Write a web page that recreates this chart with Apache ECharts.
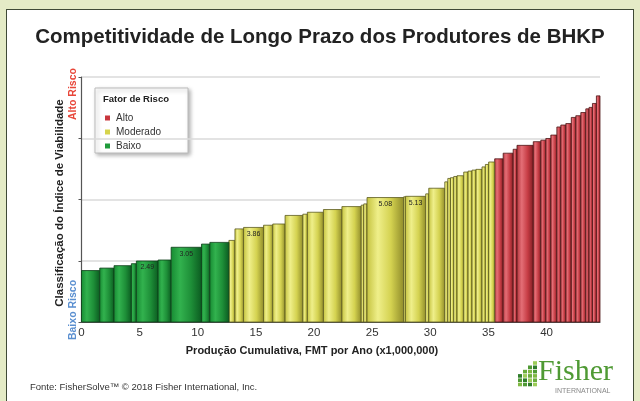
<!DOCTYPE html>
<html><head><meta charset="utf-8">
<script src="https://cdn.jsdelivr.net/npm/echarts@6/dist/echarts.min.js"></script>
<style>
html,body{margin:0;padding:0;background:#e4ebc6;width:640px;height:401px;overflow:hidden}
#frame{position:absolute;left:6px;top:9px;width:626px;height:400px;background:#fff;border:1.5px solid #3f4a36}
#c{position:absolute;left:0;top:0;width:640px;height:401px}
</style>
</head><body><div id="frame"></div><div id="c"></div><script>
// Capacity (width) of each producer group, FMT x1,000,000
const widths = [1.57,1.23,1.49,0.43,1.87,1.12,2.61,0.72,1.64,
  0.52,0.74,1.72,0.79,1.06,1.53,0.39,1.38,1.59,1.66,0.22,0.28,3.15,0.15,1.75,0.26,1.38,
  0.26,0.23,0.28,0.28,0.58,0.37,0.34,0.34,0.52,0.29,0.28,0.52,
  0.73,0.86,0.33,1.40,0.65,0.43,0.43,0.52,0.34,0.43,0.47,0.39,0.43,0.43,0.28,0.29,0.34,0.31];
// Viability index score of each group
const values = [2.10,2.20,2.30,2.38,2.49,2.53,3.05,3.18,3.25,
  3.33,3.80,3.86,3.95,4.00,4.35,4.40,4.48,4.59,4.71,4.77,4.82,5.08,5.11,5.13,5.23,5.46,
  5.72,5.86,5.89,5.94,5.97,6.12,6.16,6.20,6.23,6.33,6.43,6.53,
  6.66,6.89,7.05,7.21,7.36,7.42,7.49,7.63,7.96,8.04,8.10,8.35,8.42,8.55,8.70,8.76,8.92,9.23];
// Risk factor of each group
const risks = ['Baixo','Baixo','Baixo','Baixo','Baixo','Baixo','Baixo','Baixo','Baixo',
  'Moderado','Moderado','Moderado','Moderado','Moderado','Moderado','Moderado','Moderado','Moderado','Moderado','Moderado','Moderado','Moderado','Moderado','Moderado','Moderado','Moderado',
  'Moderado','Moderado','Moderado','Moderado','Moderado','Moderado','Moderado','Moderado','Moderado','Moderado','Moderado','Moderado',
  'Alto','Alto','Alto','Alto','Alto','Alto','Alto','Alto','Alto','Alto','Alto','Alto','Alto','Alto','Alto','Alto','Alto','Alto'];
// Bars that carry a value label
const labeledBars = [4,6,11,21,23];
const riskNames = ['Alto','Moderado','Baixo'];
const xTicks = [0,5,10,15,20,25,30,35,40];

const palettes = {
  'Alto':     {base:'#c8363d', stops:['#b0323a','#e46e76','#c63c44','#7e1c22'], stroke:'#4e1818'},
  'Moderado': {base:'#d6d44c', stops:['#c4c23e','#efef8a','#d4d250','#8f8b2a'], stroke:'#5c5a20'},
  'Baixo':    {base:'#1f9a3a', stops:['#168a32','#32b24e','#1e8f38','#0b5a20'], stroke:'#0c3d18'}
};

let cum = 0;
const seriesData = {Alto:[], Moderado:[], Baixo:[]};
widths.forEach((w,i)=>{
  const x0 = cum, x1 = cum + w; cum = x1;
  seriesData[risks[i]].push([x0, x1, values[i], labeledBars.includes(i) ? 1 : 0]);
});
const xMax = cum;

function renderBar(params, api){
  const x0 = api.value(0), x1 = api.value(1), v = api.value(2), lab = api.value(3);
  const p0 = api.coord([x0, v]), p1 = api.coord([x1, 0]);
  const pal = palettes[params.seriesName];
  const s = pal.stops;
  const children = [{
    type:'rect',
    shape:{x:p0[0], y:p0[1], width:p1[0]-p0[0], height:p1[1]-p0[1]},
    style:{
      fill:new echarts.graphic.LinearGradient(0,0,1,0,[
        {offset:0,color:s[0]},{offset:0.3,color:s[1]},{offset:0.65,color:s[2]},{offset:1,color:s[3]}]),
      stroke:pal.stroke, lineWidth:0.8
    }
  }];
  if (lab) {
    children.push({type:'text', style:{
      text:v.toFixed(2), x:(p0[0]+p1[0])/2, y:p0[1]+3, align:'center', verticalAlign:'top',
      font:'7px "Liberation Sans", Arial, sans-serif', fill:'#222'}});
  }
  return {type:'group', children};
}

const chart = echarts.init(document.getElementById('c'), null, {renderer:'canvas'});

// Fisher logo squares
const logoCells = [];
const cols = [[0,3],[1,4],[2,5],[3,6]];
const greens = ['#7fb842','#4f9a34','#2f7d2a','#9ccc58','#6aac3c'];
cols.forEach(([c,n])=>{
  for(let r=0;r<n;r++){
    logoCells.push({type:'rect', shape:{x:518+c*5, y:387-(r+1)*4.3, width:4, height:3.6},
      style:{fill:greens[(c+r)%greens.length]}});
  }
});

chart.setOption({
  backgroundColor:'transparent',
  animation:false,
  title:{text:'Competitividade de Longo Prazo dos Produtores de BHKP', left:'center', top:22,
    textStyle:{fontFamily:'"Liberation Sans", Arial, sans-serif', fontSize:20.5, fontWeight:'bold', color:'#222'}},
  grid:{left:81.5, right:40, top:77, bottom:79},
  legend:{
    data:riskNames, orient:'vertical', left:100, top:108, itemGap:4,
    icon:'rect', itemWidth:5, itemHeight:5,
    textStyle:{fontFamily:'"Liberation Sans", Arial, sans-serif', fontSize:10, color:'#333', padding:[0,0,0,1]},
    selectedMode:false
  },
  xAxis:{
    type:'value', min:0, max:xMax, interval:5,
    axisLine:{show:true, lineStyle:{color:'#555', width:1.2}},
    axisTick:{show:false},
    splitLine:{show:false},
    axisLabel:{fontFamily:'"Liberation Sans", Arial, sans-serif', fontSize:11.5, color:'#333', margin:5,
      customValues:xTicks, formatter:v=>String(v)}
  },
  yAxis:{
    type:'value', min:0, max:10, interval:2.5,
    axisLine:{show:true, lineStyle:{color:'#555', width:1.2}},
    axisTick:{show:true, length:3, lineStyle:{color:'#555'}},
    axisLabel:{show:false},
    splitLine:{show:true, lineStyle:{color:'#dadada', width:1.5}}
  },
  graphic:[
    {type:'text', x:312, y:351, style:{text:'Produção Cumulativa, FMT por Ano (x1,000,000)',
      align:'center', verticalAlign:'middle', font:'bold 11px "Liberation Sans", Arial, sans-serif', fill:'#222'}},
    {type:'text', x:60, y:203, rotation:Math.PI/2, style:{text:'Classificação do Índice de Viabilidade',
      align:'center', verticalAlign:'middle', font:'bold 11.5px "Liberation Sans", Arial, sans-serif', fill:'#222'}},
    {type:'text', x:73, y:94, rotation:Math.PI/2, style:{text:'Alto Risco',
      align:'center', verticalAlign:'middle', font:'bold 10.5px "Liberation Sans", Arial, sans-serif', fill:'#e8473a'}},
    {type:'text', x:73, y:310, rotation:Math.PI/2, style:{text:'Baixo Risco',
      align:'center', verticalAlign:'middle', font:'bold 10.5px "Liberation Sans", Arial, sans-serif', fill:'#5a8fd0'}},
    {type:'rect', z:-1, shape:{x:95, y:88, width:93, height:65},
      style:{fill:'#fff', stroke:'#bbb', lineWidth:1, shadowBlur:4, shadowColor:'rgba(0,0,0,0.3)', shadowOffsetX:2, shadowOffsetY:2}},
    {type:'text', x:103, y:99, style:{text:'Fator de Risco', verticalAlign:'middle',
      font:'bold 9.5px "Liberation Sans", Arial, sans-serif', fill:'#222'}},
    {type:'text', x:30, y:387, style:{text:'Fonte: FisherSolve™ © 2018 Fisher International, Inc.', verticalAlign:'middle',
      font:'9.5px "Liberation Sans", Arial, sans-serif', fill:'#333'}},
    {type:'text', x:538, y:372, style:{text:'Fisher', verticalAlign:'middle',
      font:'30px "Liberation Serif", "DejaVu Serif", serif', fill:'#4f9a34'}},
    {type:'text', x:555, y:391, style:{text:'INTERNATIONAL', verticalAlign:'middle',
      font:'7px "Liberation Sans", Arial, sans-serif', fill:'#888'}},
    ...logoCells
  ],
  series: riskNames.map(name=>({
    name, type:'custom', renderItem:renderBar,
    itemStyle:{color:palettes[name].base},
    encode:{x:[0,1], y:2},
    data:seriesData[name]
  }))
});
</script></body></html>
